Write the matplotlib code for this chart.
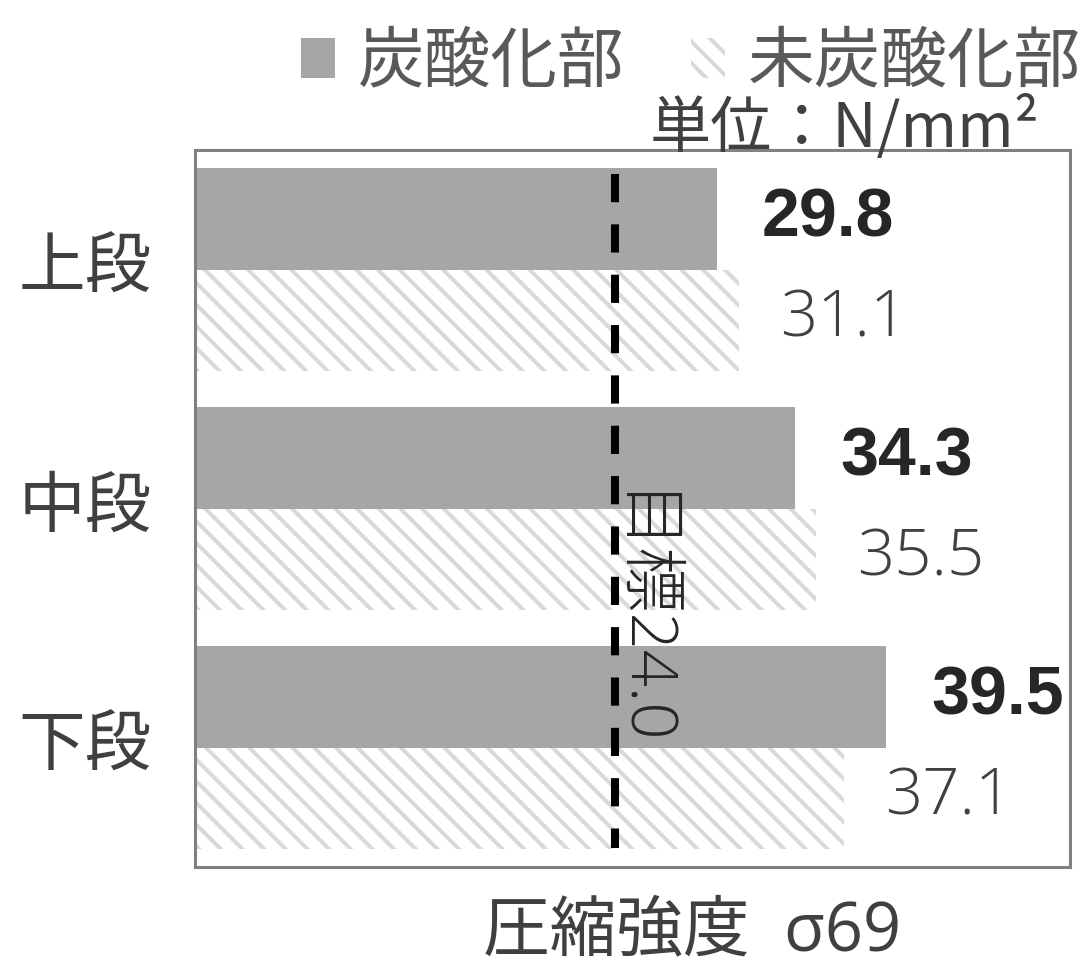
import matplotlib
matplotlib.use("Agg")
import matplotlib.pyplot as plt
import matplotlib.patches as mpatches
import matplotlib.transforms as mtransforms
import numpy as np

# compressive strength per level (N/mm2)
levels = ["上段", "中段", "下段"]
carbonated = [29.8, 34.3, 39.5]
uncarbonated = [31.1, 35.5, 37.1]
target = 24.0

series_names = ["炭酸化部", "未炭酸化部"]
dark = "#a6a6a6"
stripe = "#d9d9d9"
jp = ["Noto Sans CJK JP", "DejaVu Sans"]
num = ["Open Sans", "Noto Sans CJK JP"]

# dpi 130 gives a hatch spacing of ~11 px; sizes below were worked out at 100 dpi
DPI = 130
k = 100 / DPI

plt.rcParams["font.family"] = jp
plt.rcParams["hatch.color"] = stripe
plt.rcParams["hatch.linewidth"] = 2.2

fig = plt.figure(figsize=(1092 / DPI, 964 / DPI), dpi=DPI)
ax = fig.add_axes([0.1786, 0.1006, 0.8014, 0.7438])

y = np.arange(len(levels))
h = 0.425
ax.barh(y - h / 2, carbonated, height=h, color=dark, edgecolor="none")
ax.barh(y + h / 2, uncarbonated, height=h, facecolor="white", edgecolor=stripe,
        hatch="\\\\", linewidth=0)

for i in range(len(levels)):
    ax.text(carbonated[i] + 2.6, y[i] - h / 2, f"{carbonated[i]:.1f}",
            ha="left", va="center", fontsize=49 * k, fontweight="bold",
            family=["Liberation Sans"], color="#262626")
    ax.text(uncarbonated[i] + 2.3, y[i] + h / 2, f"{uncarbonated[i]:.1f}",
            ha="left", va="center", fontsize=47 * k, color="#404040",
            family=num, fontweight="light")

# target line
ax.vlines(target, -0.4, 2.42, colors="black", linewidth=5.8 * k,
          linestyles=(0, (3.5, 2.75)))
ax.text(target + 1.25, 1.47, f"目標{target:.1f}", rotation=270,
        ha="center", va="center", fontsize=47 * k, color="#262626",
        family=num, fontweight="light")

ax.set_xlim(0, 50)
ax.set_ylim(2.5, -0.5)
ax.set_xticks([])
ax.set_yticks(y)
ax.set_yticklabels(levels, fontsize=48 * k, color="#404040")
ax.tick_params(axis="y", length=0, pad=31 * k)
shift = mtransforms.ScaledTranslation(0, 8 / DPI, fig.dpi_scale_trans)
for lab in ax.get_yticklabels():
    lab.set_transform(lab.get_transform() + shift)
for s in ax.spines.values():
    s.set_color("#808080")
    s.set_linewidth(2.2 * k)

ax.set_xlabel("圧縮強度  σ69", fontsize=48 * k, color="#404040", family=num)
ax.xaxis.set_label_coords((692 - 195) / 875, -0.045, transform=ax.transAxes)
ax.xaxis.label.set_va("top")

handles = [mpatches.Patch(facecolor=dark, edgecolor="none"),
           mpatches.Patch(facecolor="white", edgecolor=stripe, linewidth=0,
                          hatch="\\\\")]
fig.legend(handles, series_names, loc="upper left",
           bbox_to_anchor=(268 / 1092, 1 + 4 / 964), frameon=False,
           fontsize=48 * k, ncol=2, handlelength=0.5, handleheight=0.55,
           handletextpad=0.35, columnspacing=1.0, borderpad=0,
           labelcolor="#595959")

fig.text(1040 / 1092, 1 - 147 / 964, "単位：N/mm²", ha="right", va="baseline",
         fontsize=44 * k, color="#404040")

fig.savefig("out.png", dpi=DPI)
